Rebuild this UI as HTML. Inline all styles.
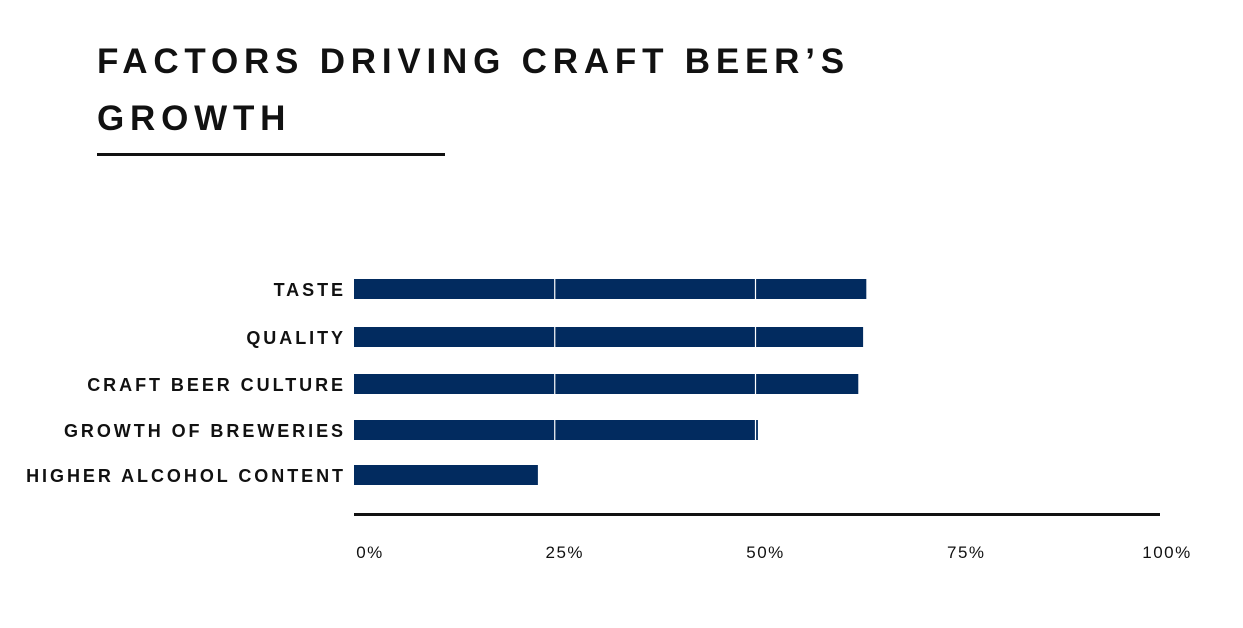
<!DOCTYPE html>
<html><head><meta charset="utf-8"><style>
html,body{margin:0;padding:0;background:#fff;}
svg{display:block;font-family:"Liberation Sans",sans-serif;}
</style></head><body>
<svg id="chart" width="1243" height="628" viewBox="0 0 1243 628" xmlns="http://www.w3.org/2000/svg">
<text x="97" y="73" font-size="35" font-weight="bold" letter-spacing="5.8" fill="#111">FACTORS DRIVING CRAFT BEER’S</text>
<text x="97" y="130" font-size="35" font-weight="bold" letter-spacing="5.8" fill="#111">GROWTH</text>
<rect x="97" y="153" width="348" height="3" fill="#111"/>
<g id="bars"></g>
<g id="grid"></g>
<rect x="354" y="513" width="806" height="3" fill="#111"/>
<g id="ticks"></g>
</svg>
<script>
const categories = ["TASTE","QUALITY","CRAFT BEER CULTURE","GROWTH OF BREWERIES","HIGHER ALCOHOL CONTENT"];
const values = [63.8, 63.4, 62.8, 50.3, 22.9];
const tickValues = [0, 25, 50, 75, 100];
const tickLabels = ["0%","25%","50%","75%","100%"];
const NS = "http://www.w3.org/2000/svg";
function x(v){ return 354 + v * 8.03; }
const rowY = [289, 337, 384, 430, 475];
const bars = document.getElementById('bars');
categories.forEach((c,i)=>{
  const r = document.createElementNS(NS,'rect');
  
  
  r.setAttribute('x', x(0)); r.setAttribute('y', rowY[i]-10);
  r.setAttribute('width', x(values[i]) - x(0)); r.setAttribute('height', 20);
  r.setAttribute('fill', '#022b5f');
  bars.appendChild(r);
  const t = document.createElementNS(NS,'text');
  
  
  t.setAttribute('x', 346); t.setAttribute('y', rowY[i]+7);
  t.setAttribute('text-anchor','end'); t.setAttribute('font-size','18');
  t.setAttribute('font-weight','bold'); t.setAttribute('letter-spacing','2.95');
  t.setAttribute('fill','#111');
  t.textContent = c;
  bars.appendChild(t);
});
const grid = document.getElementById('grid');
const ticks = document.getElementById('ticks');
tickValues.forEach((v,i)=>{
  if (v > 0 && v < 100) {
    const l = document.createElementNS(NS,'line');
    
    
    l.setAttribute('x1', x(v)); l.setAttribute('x2', x(v));
    l.setAttribute('y1', 270); l.setAttribute('y2', 517);
    l.setAttribute('stroke', '#fff'); l.setAttribute('stroke-width', '1.2');
    grid.appendChild(l);
  }
  const t = document.createElementNS(NS,'text');
  
  
  t.setAttribute('x', x(v) + (v === 0 ? 16 : 10)); t.setAttribute('y', 558);
  t.setAttribute('text-anchor','middle'); t.setAttribute('font-size','17');
  t.setAttribute('letter-spacing','1.5'); t.setAttribute('fill','#111');
  t.textContent = tickLabels[i];
  ticks.appendChild(t);
});
</script>
</body></html>
